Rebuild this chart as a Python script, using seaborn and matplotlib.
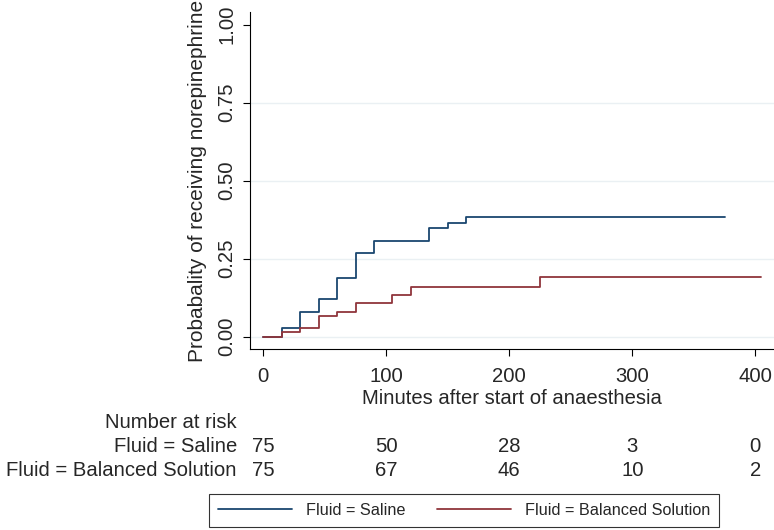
import pandas as pd
import matplotlib.pyplot as plt
import matplotlib.transforms as mtransforms
import seaborn as sns

# Kaplan-Meier style cumulative probability
saline_time = [0, 15, 30, 45, 60, 75, 90, 135, 150, 165, 375]
saline_prob = [0, 0.027, 0.080, 0.120, 0.187, 0.267, 0.307, 0.347, 0.365, 0.382, 0.382]
balanced_time = [0, 15, 30, 45, 60, 75, 105, 120, 225, 405]
balanced_prob = [0, 0.013, 0.027, 0.067, 0.080, 0.107, 0.133, 0.160, 0.190, 0.190]

groups = ["Fluid = Saline", "Fluid = Balanced Solution"]
colors = ["#1a476f", "#90353b"]

# number at risk table
risk_times = [0, 100, 200, 300, 400]
saline_at_risk = [75, 50, 28, 3, 0]
balanced_at_risk = [75, 67, 46, 10, 2]

y_ticks = [0, 0.25, 0.5, 0.75, 1.0]
x_ticks = [0, 100, 200, 300, 400]

df = pd.concat([
    pd.DataFrame({"time": saline_time, "prob": saline_prob, "group": groups[0]}),
    pd.DataFrame({"time": balanced_time, "prob": balanced_prob, "group": groups[1]}),
])

sns.set_theme(style="white")
plt.rcParams["font.family"] = ["Liberation Sans", "DejaVu Sans"]
fs = 14.6

fig = plt.figure(figsize=(7.74, 5.30), dpi=100)
ax = fig.add_axes([250 / 774, 1 - 349.3 / 530, 524 / 774, 337.3 / 530])

# faint horizontal grid (not at the top edge)
for y in y_ticks[:-1]:
    ax.axhline(y, color="#eaf0f3", lw=1.0, zorder=0)

sns.lineplot(data=df, x="time", y="prob", hue="group", hue_order=groups,
             palette=colors, drawstyle="steps-post", estimator=None,
             linewidth=1.3, legend=False, ax=ax)

ax.set_xlim(-10.8, 415.2)
ax.set_ylim(-0.041, 1.041)
ax.set_xticks(x_ticks)
ax.set_xticklabels([str(t) for t in x_ticks])
ax.set_yticks(y_ticks)
ax.set_yticklabels([f"{t:.2f}" for t in y_ticks], rotation=90, va="center")
ax.tick_params(axis="both", direction="out", length=5, width=0.8, color="black",
               labelsize=fs, pad=5, left=True, bottom=True)
ax.tick_params(axis="x", pad=8)

for side in ["top", "right"]:
    ax.spines[side].set_visible(False)
for side in ["left", "bottom"]:
    ax.spines[side].set_color("black")
    ax.spines[side].set_linewidth(0.8)

ax.set_xlabel("Minutes after start of anaesthesia", fontsize=fs, labelpad=2)
ax.set_ylabel("Probabality of receiving norepinephrine", fontsize=15, labelpad=7)

# number at risk
trans = mtransforms.blended_transform_factory(ax.transData, fig.transFigure)
label_x = 237 / 774
fig.text(label_x, 1 - 422.5 / 530, "Number at risk", ha="right", va="center", fontsize=fs)
fig.text(label_x, 1 - 446 / 530, groups[0], ha="right", va="center", fontsize=fs)
fig.text(label_x, 1 - 470 / 530, groups[1], ha="right", va="center", fontsize=fs)
for t, n1, n2 in zip(risk_times, saline_at_risk, balanced_at_risk):
    ax.text(t, 1 - 446 / 530, str(n1), transform=trans, ha="center", va="center", fontsize=fs)
    ax.text(t, 1 - 470 / 530, str(n2), transform=trans, ha="center", va="center", fontsize=fs)

handles = [h for h in ax.get_lines() if h.get_color() in colors][:2]
leg = ax.legend(handles, groups, loc="center", bbox_to_anchor=(464 / 774, 1 - 510.5 / 530),
                bbox_transform=fig.transFigure, ncol=2, fontsize=11.7, frameon=True,
                fancybox=False, edgecolor="black", handlelength=4.6, handletextpad=0.85,
                columnspacing=1.9, borderpad=0.55)
leg.get_frame().set_linewidth(0.8)

fig.savefig("out.png", dpi=100)
